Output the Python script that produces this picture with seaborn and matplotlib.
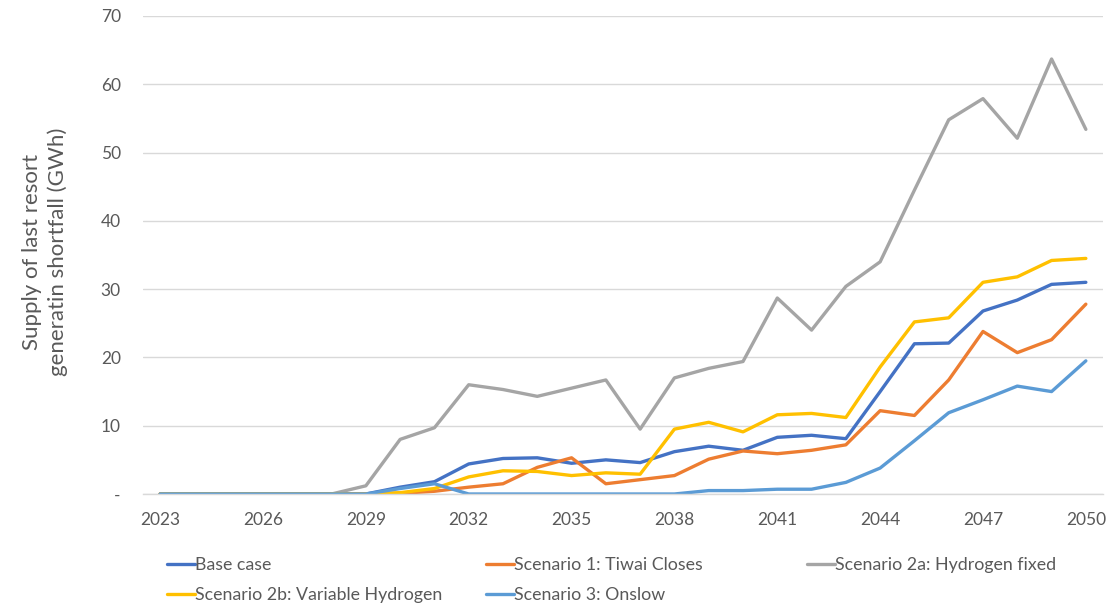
import matplotlib
matplotlib.use("Agg")
import matplotlib.pyplot as plt
from matplotlib.lines import Line2D
from matplotlib.ticker import FixedLocator, FuncFormatter
import numpy as np
import pandas as pd
import seaborn as sns

years = list(range(2023, 2051))

base_case = [0, 0, 0, 0, 0, 0, 0, 1.0, 1.8, 4.4, 5.2, 5.3, 4.5, 5.0, 4.6, 6.2,
             7.0, 6.4, 8.3, 8.6, 8.1, 15.0, 22.0, 22.1, 26.8, 28.4, 30.7, 31.0]
scenario_1 = [0, 0, 0, 0, 0, 0, 0, 0.1, 0.4, 1.0, 1.5, 3.9, 5.3, 1.5, 2.1, 2.7,
              5.1, 6.3, 5.9, 6.4, 7.2, 12.2, 11.5, 16.7, 23.8, 20.7, 22.6, 27.8]
scenario_2a = [0, 0, 0, 0, 0, 0, 1.2, 8.0, 9.7, 16.0, 15.3, 14.3, 15.5, 16.7, 9.5, 17.0,
               18.4, 19.4, 28.7, 24.0, 30.4, 34.0, 44.5, 54.8, 57.9, 52.1, 63.7, 53.4]
scenario_2b = [0, 0, 0, 0, 0, 0, 0, 0.2, 0.8, 2.5, 3.4, 3.3, 2.7, 3.1, 2.9, 9.5,
               10.5, 9.1, 11.6, 11.8, 11.2, 18.6, 25.2, 25.8, 31.0, 31.8, 34.2, 34.5]
scenario_3 = [0, 0, 0, 0, 0, 0, 0, 0.8, 1.5, 0, 0, 0, 0, 0, 0, 0,
              0.5, 0.5, 0.7, 0.7, 1.7, 3.8, 7.8, 11.9, 13.8, 15.8, 15.0, 19.5]

series_names = [
    "Base case",
    "Scenario 1: Tiwai Closes",
    "Scenario 2a: Hydrogen fixed",
    "Scenario 2b: Variable Hydrogen",
    "Scenario 3: Onslow",
]
series_values = [base_case, scenario_1, scenario_2a, scenario_2b, scenario_3]
series_colors = ["#4472C4", "#ED7D31", "#A5A5A5", "#FFC000", "#5B9BD5"]

x_ticks = list(range(2023, 2051, 3))
y_ticks = [0, 10, 20, 30, 40, 50, 60, 70]

df = pd.DataFrame(
    [(y, v, name) for name, vals in zip(series_names, series_values)
     for y, v in zip(years, vals)],
    columns=["year", "value", "scenario"],
)

sns.set_theme(style="white")
plt.rcParams["font.family"] = ["Lato", "DejaVu Sans"]

text_grey = "#595959"
grid_grey = "#D9D9D9"

fig = plt.figure(figsize=(11.10, 6.03), dpi=100)
ax = fig.add_axes([143 / 1110, 1 - 494 / 603, (1103 - 143) / 1110, (494 - 16) / 603])

palette = dict(zip(series_names, series_colors))
sns.lineplot(
    data=df, x="year", y="value", hue="scenario", hue_order=series_names,
    palette=palette, linewidth=2.4, legend=False, errorbar=None, ax=ax,
)
for line in ax.lines:
    line.set_solid_capstyle("round")
    line.set_solid_joinstyle("round")

ax.set_xlim(2022.5, 2050.5)
ax.set_ylim(0, 70)
ax.xaxis.set_major_locator(FixedLocator(x_ticks))
ax.yaxis.set_major_locator(FixedLocator(y_ticks))
ax.yaxis.set_major_formatter(FuncFormatter(lambda v, p: "-" if v == 0 else f"{v:.0f}"))

ax.grid(axis="y", color=grid_grey, linewidth=1.0)
ax.grid(axis="x", visible=False)
ax.set_axisbelow(True)
for side in ["top", "right", "left"]:
    ax.spines[side].set_visible(False)
ax.spines["bottom"].set_color(grid_grey)
ax.spines["bottom"].set_linewidth(1.0)

ax.tick_params(axis="both", length=0, labelsize=12.5, labelcolor=text_grey)
ax.tick_params(axis="y", pad=16)
ax.tick_params(axis="x", pad=13)

ax.set_xlabel("")
ax.set_ylabel("")
fig.text(45 / 1110, 1 - 252 / 603,
         "Supply of last resort\ngeneratin shortfall (GWh)",
         rotation=90, ha="center", va="center", fontsize=16,
         color=text_grey, linespacing=1.3)

# Legend laid out in three fixed-width columns below the plot
handles = {name: Line2D([], [], color=c, linewidth=2.4)
           for name, c in zip(series_names, series_colors)}
columns = [
    (167, ["Base case", "Scenario 2b: Variable Hydrogen"]),
    (486, ["Scenario 1: Tiwai Closes", "Scenario 3: Onslow"]),
    (807, ["Scenario 2a: Hydrogen fixed"]),
]
for x0, names in columns:
    leg = fig.legend(
        [handles[n] for n in names], names,
        loc="upper left", bbox_to_anchor=(x0 / 1110, 1 - 557 / 603),
        frameon=False, fontsize=12.8, handlelength=1.55, handletextpad=0.05,
        borderpad=0, borderaxespad=0, labelspacing=0.8,
    )
    for t in leg.get_texts():
        t.set_color(text_grey)

fig.savefig("out.png", dpi=100)
